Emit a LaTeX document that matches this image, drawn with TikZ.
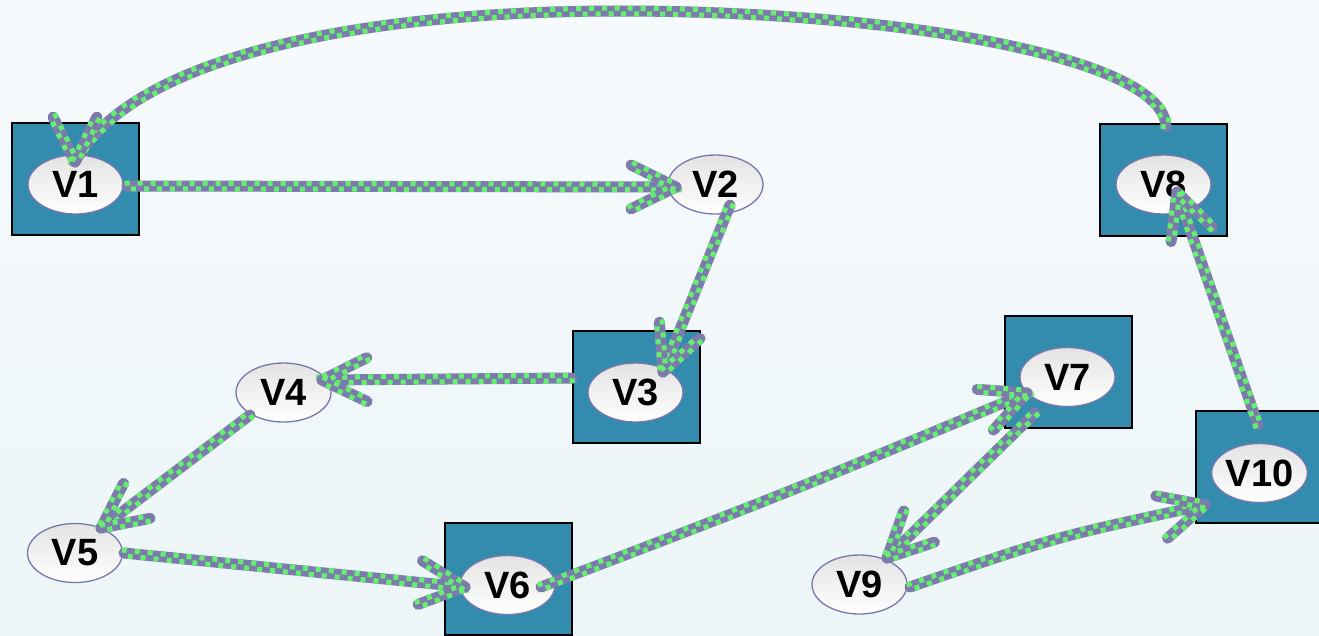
\documentclass[tikz,border=0pt]{standalone}
\usepackage{fontspec}
\setmainfont{Liberation Sans}
\usetikzlibrary{calc,shapes.geometric,decorations.markings}
\definecolor{linkpurple}{RGB}{124,124,172}
\definecolor{linkgreen}{RGB}{100,240,110}
\definecolor{boxteal}{RGB}{51,140,173}
\definecolor{rimpurple}{RGB}{120,120,175}
\definecolor{bgtop}{RGB}{247,250,253}
\definecolor{bgbottom}{RGB}{236,245,247}
% open chevron head at #1, its axis pointing back towards #2
\newcommand\headat[2]{\draw[link] ($(#1)!50pt!26:(#2)$) -- (#1) -- ($(#1)!50pt!-26:(#2)$);}
\begin{document}
\begin{tikzpicture}[x=1pt,y=-1pt,
  holder/.style={draw=black, line width=2pt, fill=boxteal, minimum width=127pt,
    minimum height=112pt, inner sep=0pt},
  vertex/.style={ellipse, draw=rimpurple, line width=1.3pt, top color=black!11,
    bottom color=white, minimum width=95pt, minimum height=59pt, inner sep=0pt,
    font=\fontsize{38}{40}\selectfont\bfseries},
  link/.style={draw=linkpurple, line width=11pt, line cap=round, line join=round,
    postaction={decorate, decoration={markings,
      mark=between positions 0 and 1 step 13pt with {
        \fill[linkgreen] (-2.5pt,0.3pt) rectangle (2.5pt,5.3pt);
        \fill[linkgreen] (4pt,-0.3pt) rectangle (9pt,-5.3pt);}}}},
]
\path[use as bounding box] (0,0) rectangle (1319,635);
\clip (0,0) rectangle (1319,635);
\shade[top color=bgtop, bottom color=bgbottom] (0,0) rectangle (1319,635);

% boxes behind some of the vertices
\node[holder] (q1)  at (75.5,179)    {};
\node[holder] (q3)  at (636,387)     {};
\node[holder] (q6)  at (508.5,579)   {};
\node[holder] (q7)  at (1068,371.5)  {};
\node[holder] (q8)  at (1163.5,179.5){};
\node[holder] (q10) at (1259.5,467)  {};

% vertices
\node[vertex] (v1)  at (75.5,184.5)  {V1};
\node[vertex] (v2)  at (715.5,184.5) {V2};
\node[vertex] (v3)  at (635.5,392.5) {V3};
\node[vertex] (v4)  at (283.5,392.5) {V4};
\node[vertex] (v5)  at (75,553)      {V5};
\node[vertex] (v6)  at (507.5,585)   {V6};
\node[vertex] (v7)  at (1067.5,377)  {V7};
\node[vertex] (v8)  at (1163.5,184.5){V8};
\node[vertex] (v9)  at (859.5,584.5) {V9};
\node[vertex] (v10) at (1259.5,473)  {V10};

% edge end points
\coordinate (s1)  at ($(v1)+(51.5,1.5)$);   \coordinate (t1)  at ($(v2)+(-39.5,2.5)$);
\coordinate (s2)  at ($(v2)+(14.5,20.5)$);  \coordinate (t2)  at ($(v3)+(27.5,-20.5)$);
\coordinate (s3)  at ($(v3)+(-63.5,-14.5)$);\coordinate (t3)  at ($(v4)+(38.5,-12.5)$);
\coordinate (s4)  at ($(v4)+(-33.5,22.5)$); \coordinate (t4)  at ($(v5)+(26,-25)$);
\coordinate (s5)  at ($(v5)+(49,0)$);       \coordinate (t5)  at ($(v6)+(-42.5,2)$);
\coordinate (s6)  at ($(v6)+(33.5,2)$);     \coordinate (t6)  at ($(v7)+(-40.5,16)$);
\coordinate (s7)  at ($(v7)+(-32.5,36)$);   \coordinate (t7)  at ($(v9)+(27.5,-26.5)$);
\coordinate (s8)  at ($(v9)+(50.5,2.5)$);   \coordinate (t8)  at ($(v10)+(-54.5,32)$);
\coordinate (s9)  at ($(v10)+(-1.5,-48)$);  \coordinate (t9)  at ($(v8)+(13.5,7.5)$);
\coordinate (s10) at ($(v8)+(2.5,-58)$);    \coordinate (t10) at ($(v1)+(-0.5,-22.5)$);
\coordinate (b10) at ($(t10)+(0,-60)$);

% edges
\draw[link] (s1) -- (t1);  \headat{t1}{s1}
\draw[link] (s2) -- (t2);  \headat{t2}{s2}
\draw[link] (s3) -- (t3);  \headat{t3}{s3}
\draw[link] (s4) -- (t4);  \headat{t4}{s4}
\draw[link] (s5) -- (t5);  \headat{t5}{s5}
\draw[link] (s6) .. controls (785.5,493.7) .. (t6);  \headat{t6}{s6}
\draw[link] (s7) -- (t7);  \headat{t7}{s7}
\draw[link] (s8) .. controls (1055,537) .. (t8);     \headat{t8}{s8}
\draw[link] (s9) -- (t9);  \headat{t9}{s9}
\draw[link] (s10) .. controls (1164,58) and (900,11) .. (620,11)
                  .. controls (350,11) and (130,60) .. (t10);
\headat{t10}{b10}
\end{tikzpicture}
\end{document}
